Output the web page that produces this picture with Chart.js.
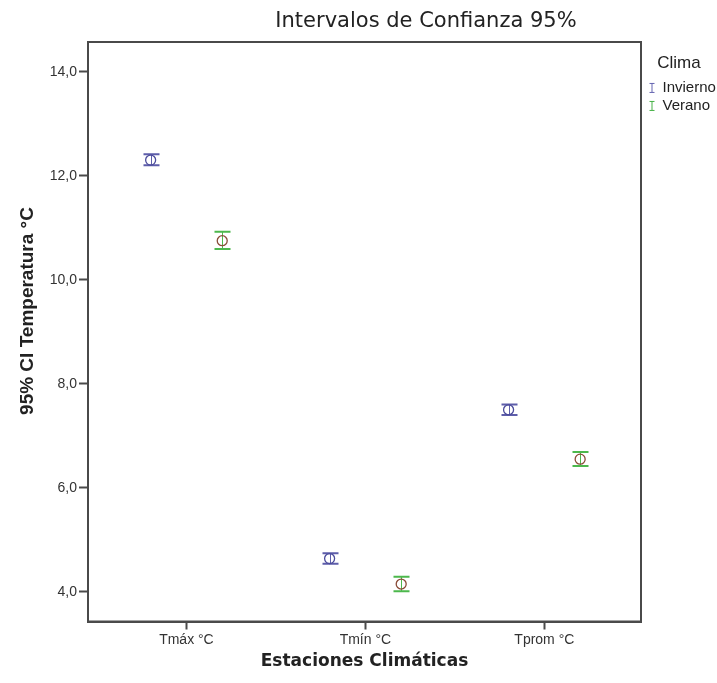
<!DOCTYPE html>
<html>
<head>
<meta charset="utf-8">
<title>Intervalos de Confianza 95%</title>
<script src="https://cdn.jsdelivr.net/npm/chart.js@4.4.0/dist/chart.umd.min.js"></script>
<style>
    html, body { margin: 0; padding: 0; background: #fff; }
    #wrap { width: 717px; height: 683px; position: relative; }
</style>
</head>
<body>
<div id="wrap"><canvas id="myChart01"></canvas></div>
<script>
// datos (medias e intervalos 95%)
var categories = ['Tmáx °C', 'Tmín °C', 'Tprom °C'];
var seriesNames = ['Invierno', 'Verano'];
var inviernoMedia = [12.30, 4.64, 7.50];
var inviernoInf = [12.20, 4.54, 7.40];
var inviernoSup = [12.41, 4.74, 7.60];
var veranoMedia = [10.75, 4.15, 6.55];
var veranoInf = [10.59, 4.01, 6.42];
var veranoSup = [10.92, 4.29, 6.69];
var yTicks = [4, 6, 8, 10, 12, 14];

document.addEventListener("DOMContentLoaded", function() {
    var offset = 0.2;
    var txtColor = '#222';

    // icono de la leyenda: barra de error pequeña
    function legendIcon(color) {
        var c = document.createElement('canvas');
        c.width = 16;
        c.height = 14;
        var g = c.getContext('2d');
        g.strokeStyle = color;
        g.lineWidth = 1;
        g.beginPath();
        g.moveTo(10.5, 2); g.lineTo(10.5, 12);
        g.moveTo(8, 2.5); g.lineTo(13, 2.5);
        g.moveTo(8, 11.5); g.lineTo(13, 11.5);
        g.stroke();
        return c;
    }

    var errorBars = {
        id: 'errorBars',
        beforeDatasetsDraw: function(chart) {
            var ctx = chart.ctx;
            var xs = chart.scales.x, ys = chart.scales.y;
            chart.data.datasets.forEach(function(ds) {
                ctx.save();
                ctx.strokeStyle = ds.barColor;
                ds.data.forEach(function(p, i) {
                    var x = Math.round(xs.getPixelForValue(p.x)) + 0.5;
                    var y1 = ys.getPixelForValue(ds.inf[i]);
                    var y2 = ys.getPixelForValue(ds.sup[i]);
                    ctx.lineWidth = 1;
                    ctx.beginPath();
                    ctx.moveTo(x, y1); ctx.lineTo(x, y2);
                    ctx.stroke();
                    ctx.lineWidth = 2;
                    ctx.beginPath();
                    ctx.moveTo(x - 8, y1); ctx.lineTo(x + 8, y1);
                    ctx.moveTo(x - 8, y2); ctx.lineTo(x + 8, y2);
                    ctx.stroke();
                });
                ctx.restore();
            });
        }
    };

    // marco del area y textos (titulo y eje y)
    var frameAndText = {
        id: 'frameAndText',
        beforeDatasetsDraw: function(chart) {
            var a = chart.chartArea, ctx = chart.ctx;
            ctx.save();
            ctx.strokeStyle = '#4a4a4a';
            ctx.lineWidth = 2;
            ctx.strokeRect(a.left, a.top, a.right - a.left, a.bottom - a.top);
            ctx.restore();
        },
        afterDraw: function(chart) {
            var ctx = chart.ctx;
            ctx.save();
            ctx.fillStyle = txtColor;
            ctx.textAlign = 'center';
            ctx.textBaseline = 'alphabetic';
            ctx.font = '21px "DejaVu Sans"';
            ctx.fillText('Intervalos de Confianza 95%', 426, 27);
            ctx.translate(33, 311);
            ctx.rotate(-Math.PI / 2);
            ctx.font = 'bold 19px "Liberation Sans"';
            ctx.fillText('95% CI Temperatura °C', 0, 0);
            ctx.restore();
        }
    };

    var data1 = {
        datasets: [
            {
                label: seriesNames[0],
                data: inviernoMedia.map(function(v, i) { return {x: i + 1 - offset, y: v}; }),
                inf: inviernoInf,
                sup: inviernoSup,
                barColor: '#5e5eaa',
                icon: legendIcon('#6464b0'),
                borderColor: '#4c4c9c',
                backgroundColor: 'rgba(0,0,0,0)',
                borderWidth: 1.3,
                pointRadius: 5,
                pointHoverRadius: 5
            },
            {
                label: seriesNames[1],
                data: veranoMedia.map(function(v, i) { return {x: i + 1 + offset, y: v}; }),
                inf: veranoInf,
                sup: veranoSup,
                barColor: '#4cb84c',
                icon: legendIcon('#44b044'),
                borderColor: '#8a4c38',
                backgroundColor: 'rgba(0,0,0,0)',
                borderWidth: 1.3,
                pointRadius: 5,
                pointHoverRadius: 5
            }
        ]
    };

    var ctx01 = document.getElementById('myChart01').getContext('2d');
    var myChart01 = new Chart(ctx01, {
        type: 'scatter',
        data: data1,
        plugins: [errorBars, frameAndText],
        options: {
            responsive: true,
            maintainAspectRatio: false,
            animation: false,
            devicePixelRatio: 1,
            layout: { padding: { top: 42, left: 0, right: 0, bottom: 0 } },
            plugins: {
                tooltip: { enabled: false },
                title: { display: false },
                legend: {
                    position: 'right',
                    align: 'start',
                    maxWidth: 76,
                    title: {
                        display: true,
                        text: 'Clima',
                        color: txtColor,
                        font: { family: 'Liberation Sans', size: 17 },
                        padding: { top: 13, bottom: 2 }
                    },
                    labels: {
                        usePointStyle: true,
                        pointStyleWidth: 11,
                        padding: 3,
                        color: txtColor,
                        font: { family: 'Liberation Sans', size: 15 },
                        generateLabels: function(chart) {
                            return chart.data.datasets.map(function(ds, i) {
                                return {
                                    text: ds.label,
                                    pointStyle: ds.icon,
                                    fillStyle: 'rgba(0,0,0,0)',
                                    strokeStyle: 'rgba(0,0,0,0)',
                                    fontColor: txtColor,
                                    lineWidth: 0,
                                    datasetIndex: i
                                };
                            });
                        }
                    }
                }
            },
            scales: {
                x: {
                    type: 'linear',
                    min: 0.45,
                    max: 3.54,
                    afterFit: function(scale) { scale.height = 61.5; },
                    afterBuildTicks: function(scale) {
                        scale.ticks = categories.map(function(c, i) { return {value: i + 1}; });
                    },
                    grid: { drawOnChartArea: false, drawTicks: true, tickLength: 8, color: '#4a4a4a', tickWidth: 2 },
                    border: { display: true, color: '#4a4a4a', width: 2 },
                    ticks: {
                        padding: 2,
                        color: '#333',
                        font: { family: 'Liberation Sans', size: 14 },
                        maxRotation: 0,
                        callback: function(v) { return categories[v - 1]; }
                    },
                    title: {
                        display: true,
                        text: 'Estaciones Climáticas',
                        color: txtColor,
                        font: { family: 'DejaVu Sans', size: 17, weight: 'bold' },
                        padding: { top: 0, bottom: 11 }
                    }
                },
                y: {
                    min: 3.43,
                    max: 14.57,
                    afterFit: function(scale) { scale.width = 88; },
                    afterBuildTicks: function(scale) {
                        scale.ticks = yTicks.map(function(v) { return {value: v}; });
                    },
                    grid: { drawOnChartArea: false, drawTicks: true, tickLength: 9, color: '#4a4a4a', tickWidth: 2 },
                    border: { display: true, color: '#4a4a4a', width: 2 },
                    ticks: {
                        padding: 2,
                        color: '#333',
                        font: { family: 'Liberation Sans', size: 14 },
                        callback: function(v) { return v.toFixed(1).replace('.', ','); }
                    }
                }
            }
        }
    });
});
</script>
</body>
</html>
